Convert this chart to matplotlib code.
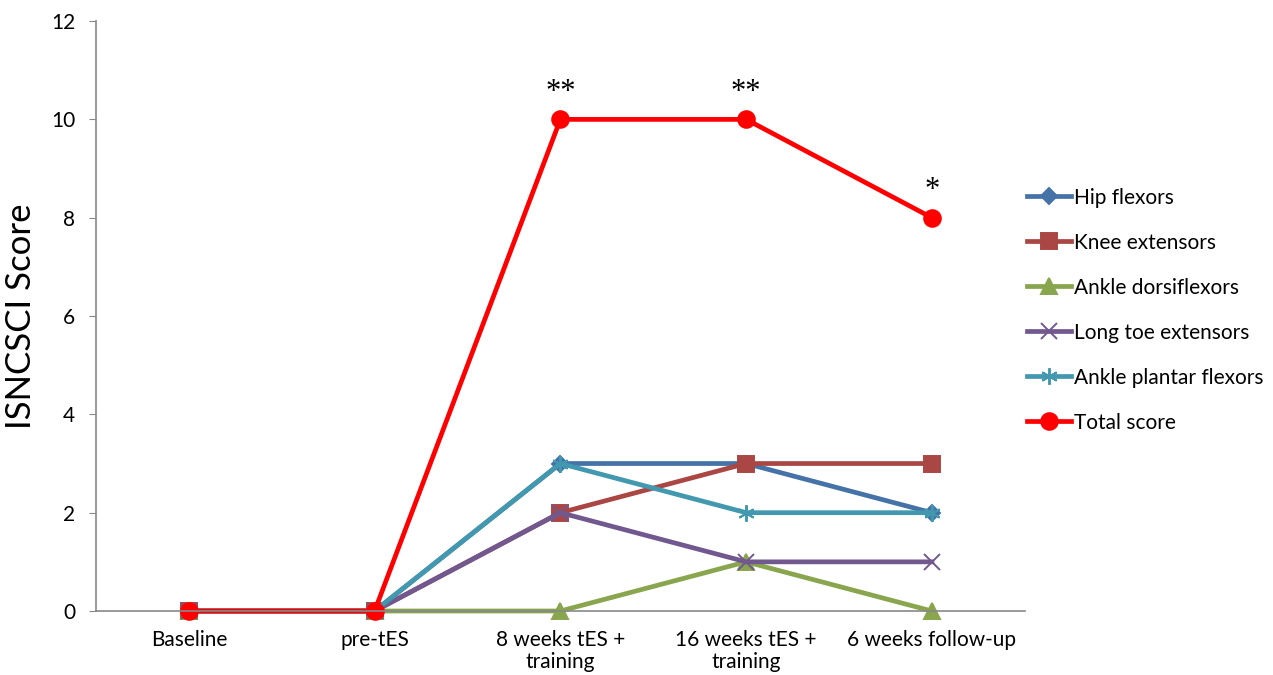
import matplotlib.pyplot as plt
import numpy as np

categories = ["Baseline", "pre-tES", "8 weeks tES +\ntraining", "16 weeks tES +\ntraining", "6 weeks follow-up"]
hip_flexors = [0, 0, 3, 3, 2]
knee_extensors = [0, 0, 2, 3, 3]
ankle_dorsiflexors = [0, 0, 0, 1, 0]
long_toe_extensors = [0, 0, 2, 1, 1]
ankle_plantar_flexors = [0, 0, 3, 2, 2]
total_score = [0, 0, 10, 10, 8]
significance = ["", "", "**", "**", "*"]

plt.rcParams['font.family'] = ['Lato', 'DejaVu Sans']

fig = plt.figure(figsize=(12.73, 6.75), dpi=100)
ax = fig.add_axes([0.0754, 0.0948, 0.7296, 0.874])

x = np.arange(len(categories))
series = [
    ("Hip flexors", hip_flexors, "#4572A7", "D", 8),
    ("Knee extensors", knee_extensors, "#AA4643", "s", 11),
    ("Ankle dorsiflexors", ankle_dorsiflexors, "#89A54E", "^", 11),
    ("Long toe extensors", long_toe_extensors, "#71588F", "x", 11),
    ("Ankle plantar flexors", ankle_plantar_flexors, "#4198AF", (6, 2, 0), 12),
    ("Total score", total_score, "#FF0000", "o", 12),
]
for name, vals, col, mk, ms in series:
    ax.plot(x, vals, color=col, lw=3.4, marker=mk, markersize=ms,
            markeredgewidth=1.4, label=name, solid_joinstyle="round",
            clip_on=False)

for xi, yi, s in zip(x, total_score, significance):
    if s:
        ax.text(xi, yi + 0.25, s, ha="center", va="bottom", fontsize=22,
                family="Liberation Serif")

ax.set_xlim(-0.5, 4.5)
ax.set_ylim(0, 12)
ax.set_yticks(range(0, 13, 2))
ax.set_xticks(x)
ax.set_xticklabels(categories, fontsize=15, linespacing=1.1)
ax.tick_params(axis="x", length=0, pad=14)
ax.tick_params(axis="y", labelsize=15, length=5, color="#888888", pad=10)
for side in ["top", "right"]:
    ax.spines[side].set_visible(False)
for side in ["left", "bottom"]:
    ax.spines[side].set_color("#888888")
    ax.spines[side].set_linewidth(1.2)
ax.set_ylabel("ISNCSCI Score", fontsize=25, labelpad=10)

ax.legend(loc="center left", bbox_to_anchor=(0.9935, 0.51), frameon=False,
          borderaxespad=0, fontsize=15, handlelength=2.1, handletextpad=0.15,
          labelspacing=1.2)

fig.savefig("out.png", dpi=100)
